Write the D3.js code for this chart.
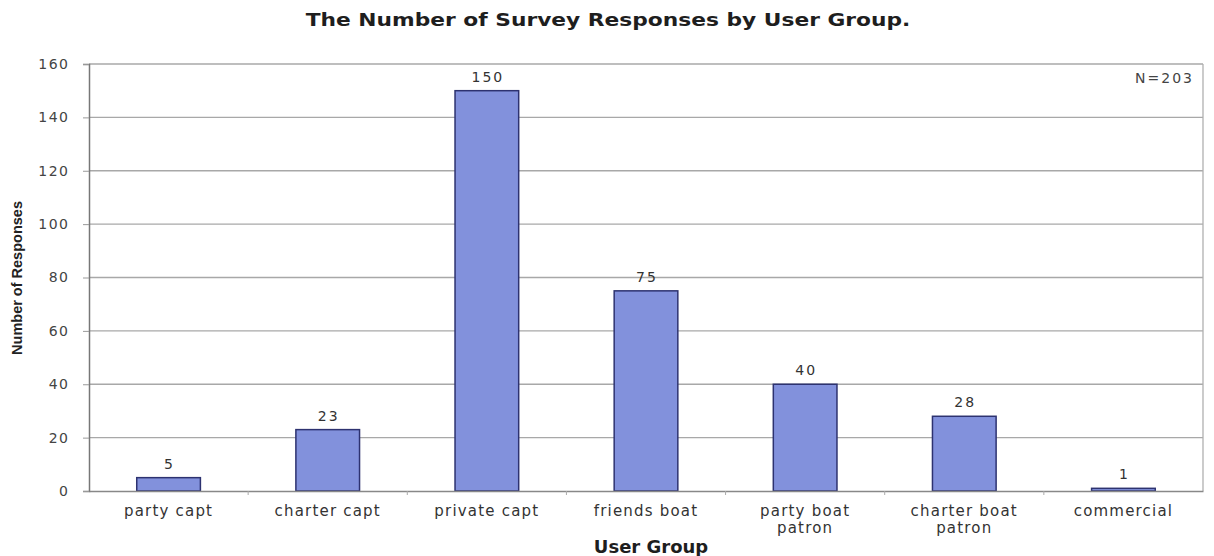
<!DOCTYPE html>
<html>
<head>
<meta charset="utf-8">
<script src="https://cdn.jsdelivr.net/npm/d3@7"></script>
<style>
  body { margin: 0; background: #fff; }
  svg { display: block; }
</style>
</head>
<body>
<svg id="chart"></svg>
<script>
  const categories = ["party capt", "charter capt", "private capt", "friends boat", "party boat\npatron", "charter boat\npatron", "commercial"];
  const responses = [5, 23, 150, 75, 40, 28, 1];
  const yTicks = [0, 20, 40, 60, 80, 100, 120, 140, 160];
  const titleText = "The Number of Survey Responses by User Group.";
  const noteText = "N=203";

  const margin = { top: 64, right: 11, bottom: 65, left: 89 };
  const width = 1214 - margin.left - margin.right;
  const height = 556 - margin.top - margin.bottom;

  const root = d3.select("#chart").attr("width", 1214).attr("height", 556);

  // the original looks stretched sideways, so widen the title a bit
  root.append("text")
    .attr("transform", "translate(608,26) scale(1.28,1)")
    .attr("text-anchor", "middle")
    .style("font-family", "DejaVu Sans")
    .style("font-weight", "bold")
    .style("font-size", "17px")
    .style("fill", "#1e1e1e")
    .text(titleText);

  const svg = root.append("g")
    .attr("transform", "translate(" + margin.left + "," + margin.top + ")");

  const xScale = d3.scaleBand().domain(categories).range([0, width]).paddingInner(0.6).paddingOuter(0.3);
  const yScale = d3.scaleLinear().domain([0, 160]).range([height, 0]);

  // gridlines
  svg.selectAll("line.grid")
    .data(yTicks.filter((d) => d > 0))
    .enter()
    .append("line")
    .attr("class", "grid")
    .attr("x1", 0)
    .attr("x2", width)
    .attr("y1", (d) => yScale(d))
    .attr("y2", (d) => yScale(d))
    .attr("stroke", "#a8a8a8")
    .attr("stroke-width", 1.3);

  // right border
  svg.append("line")
    .attr("x1", width).attr("x2", width)
    .attr("y1", 0).attr("y2", height)
    .attr("stroke", "#b0b0b0").attr("stroke-width", 1.3);

  // bars
  svg.selectAll("rect.bar")
    .data(responses)
    .enter()
    .append("rect")
    .attr("class", "bar")
    .attr("x", (d, i) => xScale(categories[i]))
    .attr("y", (d) => yScale(d))
    .attr("width", xScale.bandwidth())
    .attr("height", (d) => height - yScale(d))
    .attr("fill", "#8291dc")
    .attr("stroke", "#2d3270")
    .attr("stroke-width", 1.5);

  svg.selectAll("text.value")
    .data(responses)
    .enter()
    .append("text")
    .attr("class", "value")
    .attr("x", (d, i) => xScale(categories[i]) + xScale.bandwidth() / 2 + 1)
    .attr("y", (d) => yScale(d) - 9)
    .attr("text-anchor", "middle")
    .style("font-family", "DejaVu Sans")
    .style("font-size", "14px")
    .style("letter-spacing", "2px")
    .style("fill", "#333")
    .text((d) => d);

  // y axis
  const yAxis = d3.axisLeft(yScale).tickValues(yTicks).tickSize(6).tickPadding(15);
  const gy = svg.append("g").call(yAxis);
  gy.select(".domain").attr("stroke", "#777").attr("stroke-width", 1.5);
  gy.selectAll(".tick line").attr("stroke", "#999");
  gy.selectAll(".tick text")
    .attr("dx", "1.5px")
    .style("font-family", "DejaVu Sans")
    .style("font-size", "14px")
    .style("letter-spacing", "1.5px")
    .style("fill", "#444");

  // x axis
  const xAxis = d3.axisBottom(xScale).tickSize(0).tickPadding(16);
  const gx = svg.append("g").attr("transform", "translate(0," + height + ")").call(xAxis);
  gx.select(".domain").attr("stroke", "#888").attr("stroke-width", 1.5);
  gx.selectAll(".tick text")
    .style("font-family", "DejaVu Sans")
    .style("font-size", "15px")
    .style("letter-spacing", "1.2px")
    .style("fill", "#333")
    .each(function (d) {
      const t = d3.select(this);
      const lines = d.split("\n");
      t.text(null);
      lines.forEach((l, i) => {
        t.append("tspan").attr("x", 0).attr("dy", i === 0 ? "0.6em" : "1.15em").text(l);
      });
    });

  // small separators between categories
  svg.selectAll("line.sep")
    .data(categories.slice(1))
    .enter()
    .append("line")
    .attr("class", "sep")
    .attr("x1", (d) => xScale(d) - xScale.step() * xScale.paddingInner() / 2)
    .attr("x2", (d) => xScale(d) - xScale.step() * xScale.paddingInner() / 2)
    .attr("y1", height)
    .attr("y2", height + 4)
    .attr("stroke", "#aaa");

  svg.append("text")
    .attr("x", width - 9)
    .attr("y", 19)
    .attr("text-anchor", "end")
    .style("font-family", "DejaVu Sans")
    .style("font-size", "14px")
    .style("letter-spacing", "2px")
    .style("fill", "#444")
    .text(noteText);

  root.append("text")
    .attr("transform", "translate(651,553) scale(1.06,1)")
    .attr("text-anchor", "middle")
    .style("font-family", "DejaVu Sans")
    .style("font-weight", "bold")
    .style("font-size", "17px")
    .style("fill", "#1e1e1e")
    .text("User Group");

  root.append("text")
    .attr("transform", "translate(22,278) rotate(-90)")
    .attr("text-anchor", "middle")
    .style("font-family", "Liberation Sans Narrow, Liberation Sans")
    .style("font-weight", "bold")
    .style("font-size", "14.5px")
    .style("fill", "#222")
    .text("Number of Responses");
</script>
</body>
</html>
